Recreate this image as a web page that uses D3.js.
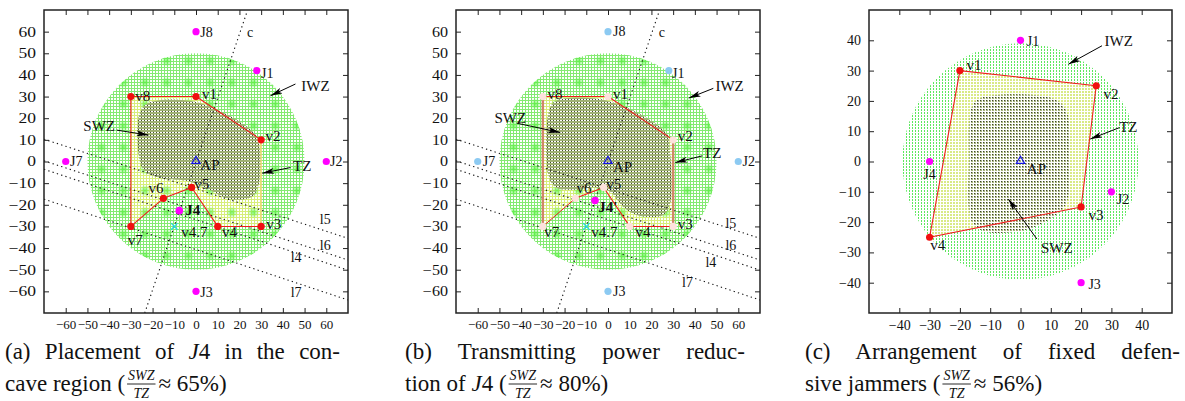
<!DOCTYPE html>
<html><head><meta charset="utf-8">
<script src="https://cdn.jsdelivr.net/npm/d3@7"></script>
<style>
body{margin:0;background:#fff;}
svg text{font-family:"Liberation Serif","Times New Roman",Tinos,"Nimbus Roman","DejaVu Serif",serif;fill:#111;}
</style>
</head><body>
<svg id="chart" width="1185" height="401" font-family="'Liberation Serif', 'Times New Roman', serif"></svg>
<script>
// ---------------- DATA ----------------
const ticksAB = [-60,-50,-40,-30,-20,-10,0,10,20,30,40,50,60];
const ticksC  = [-40,-30,-20,-10,0,10,20,30,40];

// polygon (TZ) vertices, panels a & b
const vertNamesAB = ["v1","v2","v3","v4","v5","v6","v7","v8"];
const vertXAB = [0,30,30,10,-2,-15,-30,-30];
const vertYAB = [30,10,-30,-30,-12,-17,-30,30];

// fixed jammers panels a & b
const jamNamesAB = ["J8","J1","J2","J3","J7"];
const jamXAB = [0,28,60,0,-60];
const jamYAB = [60,42,0,-60,0];

// moving jammer J4
const j4A = [-7.7,-22.7];
const j4B = [-6,-18];
const v47 = [-10,-30];
const apPos = [0,0];

// circle radii of IWZ
const iwzRadiusAB = 50;
const iwzRadiusC = 39;

// SWZ outlines
const swzA = [[-26,22],[-22,27],[0,27.5],[26,14],[29,8],[29,-10],[26,-16],[16,-17.5],[6,-13],[-4,-9],[-15,-8],[-24,-4],[-26.5,4]];
const swzB = [[-27,24],[-24,28],[0,28],[27,13],[28.5,5],[28.5,-20],[25,-25],[14,-25],[7,-21],[1,-14],[-6,-12],[-16,-13],[-24,-12],[-27.5,-6]];
const swzC = [[-16,18],[-13,21],[10,21],[15,17],[16,0],[15,-14],[8,-20],[0,-23],[-12,-23],[-16,-20],[-17,0]];

// dotted construction lines
const lineNames = ["c","l5","l6","l4","l7"];
const lineStart = [[-23.6,-70],[-70,10.3],[-70,0.3],[-70,-3.6],[-70,-17.4]];
const lineEnd   = [[23.6,69.5],[70,-35.5],[70,-45.5],[70,-50.2],[70,-64]];
const lineLabelA = [[23.5,59.7],[57,-26.7],[57,-39],[43.6,-44.4],[43.6,-60.6]];
const lineLabelB = [[23.4,59.7],[54.1,-28.6],[54.1,-39],[44.9,-46.8],[34.1,-56]];

// zone annotations
const zoneNames = ["IWZ","SWZ","TZ"];
const zoneLabelA = [[55,34.7],[-44.6,16.5],[48.9,-2]];
const zoneFromA  = [[45.8,35.8],[-36.5,14.5],[43.5,-2.8]];
const zoneToA    = [[34.3,30.4],[-21.9,12.2],[30.5,-5.4]];
const zoneLabelB = [[56,34.7],[-45,20],[48,3.8]];
const zoneFromB  = [[48.5,33.8],[-42,17.7],[43.4,2.6]];
const zoneToB    = [[37.2,29.3],[-22,13.4],[31,-0.5]];
const zoneLabelC = [[32.4,39.8],[12,-28.4],[35.6,11.5]];
const zoneFromC  = [[26.9,38.2],[5.4,-25.6],[32.7,11.2]];
const zoneToC    = [[15.8,32.1],[-4,-12.4],[23,7.4]];

// panel c polygon and jammers
const vertNamesC = ["v1","v2","v3","v4"];
const vertXC = [-20,25,20,-30];
const vertYC = [30,25,-15,-25];
const jamNamesC = ["J1","J2","J3","J4"];
const jamXC = [0,30,20,-30];
const jamYC = [40,-10,-40,0];

// captions
const capA1 = [["(a) Placement of ",0],["J",1],["4 in the con-",0]];
const capA2 = [["cave region (",0]]; const capA3 = " ≈ 65%)";
const capB1 = [["(b) Transmitting power reduc-",0]];
const capB2 = [["tion of ",0],["J",1],["4 (",0]]; const capB3 = " ≈ 80%)";
const capC1 = [["(c) Arrangement of fixed defen-",0]];
const capC2 = [["sive jammers (",0]]; const capC3 = " ≈ 56%)";
const fracNum = "SWZ", fracDen = "TZ";

// ---------------- DRAW ----------------
const FONT = "'Liberation Serif', 'Times New Roman', serif";
const svg = d3.select("#chart");
const defs = svg.append("defs");

function pattern(id, size, cells){
  const p = defs.append("pattern").attr("id",id).attr("patternUnits","userSpaceOnUse")
    .attr("width",size).attr("height",size);
  p.append("rect").attr("width",size).attr("height",size).attr("fill","#fff");
  cells.forEach(c=>p.append("rect").attr("x",c[0]).attr("y",c[1]).attr("width",c[2]).attr("height",c[3]).attr("fill",c[4]));
}
pattern("iwzAB",3,[[0,0,3,1,"#84ea72"],[0,0,1,3,"#84ea72"]]);
pattern("tzAB",3,[[0,0,3,1,"#d6ee7a"],[0,0,1,3,"#d6ee7a"]]);
pattern("swzAB",3,[[0,0,3,2,"#a0b274"],[1,2,1,1,"#48522e"]]);
pattern("iwzC",3,[[1,0,1,2,"#5ee85e"]]);
pattern("tzC",3,[[0,0,2,2,"#d9ea86"]]);
pattern("swzC",3,[[0,0,2,2,"#a8b47e"],[0,0,1,1,"#3e4430"]]);

const glow = defs.append("radialGradient").attr("id","glow");
glow.append("stop").attr("offset","0%").attr("stop-color","#55f03c").attr("stop-opacity",0.8);
glow.append("stop").attr("offset","100%").attr("stop-color","#55f03c").attr("stop-opacity",0);

defs.append("marker").attr("id","ah").attr("viewBox","0 0 12 6").attr("refX",12).attr("refY",3)
  .attr("markerWidth",12).attr("markerHeight",6).attr("markerUnits","userSpaceOnUse").attr("orient","auto")
  .append("path").attr("d","M0,0 L12,3 L0,6 L3,3 Z").attr("fill","#000");

function zip(xs,ys){return xs.map((x,i)=>[x,ys[i]]);}

function panel(o){
  const g = svg.append("g").attr("transform",`translate(${o.left},${o.top})`);
  const x = d3.scaleLinear().domain(o.domain).range([0,o.w]);
  const y = d3.scaleLinear().domain(o.domain).range([o.h,0]);
  const cid = "clip"+o.key;
  defs.append("clipPath").attr("id",cid).append("rect").attr("width",o.w).attr("height",o.h);
  const inner = g.append("g").attr("clip-path",`url(#${cid})`);

  // IWZ
  inner.append("ellipse").attr("cx",x(0)).attr("cy",y(0))
    .attr("rx",x(o.r)-x(0)).attr("ry",y(0)-y(o.r)).attr("fill",`url(#${o.iwzPat})`);
  // TZ polygon
  const pts = zip(o.vx,o.vy);
  inner.append("path").attr("d","M"+pts.map(p=>[x(p[0]),y(p[1])].join(",")).join("L")+"Z")
    .attr("fill",`url(#${o.tzPat})`);
  // resampling glow spots
  if(o.glow){
    const tw = x(10)-x(0), th = y(0)-y(10);
    const bp = defs.append("pattern").attr("id","blob"+o.key).attr("patternUnits","userSpaceOnUse")
      .attr("width",tw).attr("height",th).attr("x",x(6.5)-tw/2).attr("y",y(6.5)-th/2);
    bp.append("circle").attr("cx",tw/2).attr("cy",th/2).attr("r",6).attr("fill","url(#glow)");
    inner.append("ellipse").attr("cx",x(0)).attr("cy",y(0))
      .attr("rx",x(o.r)-x(0)).attr("ry",y(0)-y(o.r)).attr("fill",`url(#blob${o.key})`);
  }
  // SWZ
  const sl = d3.line().x(d=>x(d[0])).y(d=>y(d[1])).curve(d3.curveCatmullRomClosed.alpha(0.5));
  inner.append("path").attr("d",sl(o.swz)).attr("fill",`url(#${o.swzPat})`);

  // dotted lines
  if(o.lines){
    lineNames.forEach((n,i)=>{
      inner.append("line").attr("x1",x(lineStart[i][0])).attr("y1",y(lineStart[i][1]))
        .attr("x2",x(lineEnd[i][0])).attr("y2",y(lineEnd[i][1]))
        .attr("stroke","#111").attr("stroke-width",1.1).attr("stroke-dasharray","1.3,3.2");
      g.append("text").attr("x",x(o.lineLabels[i][0])).attr("y",y(o.lineLabels[i][1])+4.5)
        .attr("font-size",14).text(n);
    });
  }
  // polygon edges
  pts.forEach((p,i)=>{
    const q = pts[(i+1)%pts.length];
    const st = (o.edgeStyle && o.edgeStyle[i]) || {c:"#ee1c1c",w:1.1};
    inner.append("line").attr("x1",x(p[0])).attr("y1",y(p[1])).attr("x2",x(q[0])).attr("y2",y(q[1]))
      .attr("stroke",st.c).attr("stroke-width",st.w);
  });
  // zone arrows + labels
  zoneNames.forEach((n,i)=>{
    g.append("line").attr("x1",x(o.zFrom[i][0])).attr("y1",y(o.zFrom[i][1]))
      .attr("x2",x(o.zTo[i][0])).attr("y2",y(o.zTo[i][1]))
      .attr("stroke","#000").attr("stroke-width",1).attr("marker-end","url(#ah)");
    g.append("text").attr("x",x(o.zLabel[i][0])).attr("y",y(o.zLabel[i][1])+5)
      .attr("text-anchor","middle").attr("font-size",15).text(n);
  });
  // AP
  g.append("path").attr("transform",`translate(${x(apPos[0])},${y(apPos[1])-0.5})`)
    .attr("d",d3.symbol(d3.symbolTriangle,30)()).attr("fill","none").attr("stroke","#1515e0").attr("stroke-width",1.2);
  g.append("text").attr("x",x(apPos[0])+o.apOff[0]).attr("y",y(apPos[1])+o.apOff[1]).attr("font-size",15).text("AP");
  // v4.7 cross
  if(o.cross){
    g.append("path").attr("transform",`translate(${x(v47[0])},${y(v47[1])})`)
      .attr("d",d3.symbol(d3.symbolTimes,30)()).attr("fill","none").attr("stroke","#22d8e0").attr("stroke-width",1.2);
    g.append("text").attr("x",x(v47[0])+o.crossOff[0]).attr("y",y(v47[1])+o.crossOff[1]).attr("font-size",15).text("v4.7");
  }
  // vertices
  pts.forEach((p,i)=>{
    g.append("circle").attr("cx",x(p[0])).attr("cy",y(p[1])).attr("r",3.6).attr("fill",o.vColor);
    const off = o.vOff[o.vNames[i]];
    g.append("text").attr("x",x(p[0])+off[0]).attr("y",y(p[1])+off[1])
      .attr("text-anchor",off[2]||"start").attr("font-size",15).text(o.vNames[i]);
  });
  // jammers
  o.jNames.forEach((n,i)=>{
    g.append("circle").attr("cx",x(o.jx[i])).attr("cy",y(o.jy[i])).attr("r",3.6).attr("fill",o.jColor);
    const off = o.jOff[n];
    g.append("text").attr("x",x(o.jx[i])+off[0]).attr("y",y(o.jy[i])+off[1])
      .attr("text-anchor",off[2]||"start").attr("font-size",14).text(n);
  });
  if(o.j4){
    g.append("circle").attr("cx",x(o.j4[0])).attr("cy",y(o.j4[1])).attr("r",3.8).attr("fill","#ff00ff");
    g.append("text").attr("x",x(o.j4[0])+o.j4Off[0]).attr("y",y(o.j4[1])+o.j4Off[1])
      .attr("font-size",15).attr("font-weight","bold").text(o.j4Label);
  }

  // axes with inward ticks
  const fmt = d=> d<0 ? "\u2212"+Math.abs(d) : String(d);
  const ax = g.append("g").attr("transform",`translate(0,${o.h})`)
    .call(d3.axisBottom(x).tickValues(o.ticks).tickSizeInner(-5).tickSizeOuter(0).tickPadding(7).tickFormat(fmt));
  ax.attr("font-family",FONT);
  ax.selectAll("text").attr("font-size",o.xFont).attr("fill","#111");
  const ay = g.append("g")
    .call(d3.axisLeft(y).tickValues(o.ticks).tickSizeInner(-5).tickSizeOuter(0).tickPadding(8).tickFormat(fmt));
  ay.attr("font-family",FONT);
  ay.selectAll("text").attr("font-size",o.yFont).attr("fill","#111")
    .attr("transform",`scale(${o.yStretch},1)`).attr("x",-8/o.yStretch);
  g.append("g").call(d3.axisTop(x).tickValues(o.ticks).tickSizeInner(-5).tickSizeOuter(0).tickFormat(""));
  g.append("g").attr("transform",`translate(${o.w},0)`)
    .call(d3.axisRight(y).tickValues(o.ticks).tickSizeInner(-5).tickSizeOuter(0).tickFormat(""));
  g.selectAll(".domain").remove();
  g.selectAll(".tick line").attr("stroke","#222").attr("stroke-width",1);
  g.append("rect").attr("width",o.w).attr("height",o.h).attr("fill","none").attr("stroke","#222").attr("stroke-width",1.5);
}

const offAB = {v8:[4.3,4.2],v1:[6,2.2],v2:[4.3,1.2],v3:[5,2.2],v4:[4.3,10.5],v5:[2.7,1.2],v6:[0,-5.5,"end"],v7:[-3,18.8]};
const offB  = {v8:[4.7,2.2],v1:[5,2.2],v2:[4.7,1.2],v3:[4.7,2.2],v4:[5.7,10.5],v5:[2.7,1.2],v6:[1,-4.8],v7:[1.3,10.5]};
const jOffA = {J8:[4.3,5.5],J1:[4.3,7.2],J2:[3.7,4.5],J3:[4.3,5.5],J7:[4.3,4.5]};
const jOffB = {J8:[5,4.5],J1:[3.3,7.2],J2:[4.3,4.5],J3:[5,4.5],J7:[5,4.5]};

panel({key:"a",left:44,top:10,w:304,h:303,domain:[-70,70],r:iwzRadiusAB,glow:true,
  iwzPat:"iwzAB",tzPat:"tzAB",swzPat:"swzAB",vx:vertXAB,vy:vertYAB,vNames:vertNamesAB,swz:swzA,
  lines:true,lineLabels:lineLabelA,zLabel:zoneLabelA,zFrom:zoneFromA,zTo:zoneToA,
  apOff:[4.3,8.8],cross:true,crossOff:[7,10.5],vColor:"#f01010",vOff:offAB,
  edgeStyle:{1:{c:"#f4d070",w:1.2}},
  jNames:jamNamesAB,jx:jamXAB,jy:jamYAB,jColor:"#ff00ff",jOff:jOffA,j4:j4A,j4Off:[6,4.8],j4Label:"J4",
  ticks:ticksAB,xFont:13,yFont:14,yStretch:1.25});

panel({key:"b",left:456,top:10,w:304,h:303,domain:[-70,70],r:iwzRadiusAB,glow:true,
  iwzPat:"iwzAB",tzPat:"tzAB",swzPat:"swzAB",vx:vertXAB,vy:vertYAB,vNames:vertNamesAB,swz:swzB,
  lines:true,lineLabels:lineLabelB,zLabel:zoneLabelB,zFrom:zoneFromB,zTo:zoneToB,
  apOff:[5,10.5],cross:true,crossOff:[5,10.5],vColor:"#fde2dc",vOff:offB,
  edgeStyle:{1:{c:"#d08868",w:2.4},5:{c:"#e82020",w:1},6:{c:"#d08868",w:2.4}},
  jNames:jamNamesAB,jx:jamXAB,jy:jamYAB,jColor:"#8ccaf2",jOff:jOffB,j4:j4B,j4Off:[3.3,11.5],j4Label:"J4'",
  ticks:ticksAB,xFont:13,yFont:14,yStretch:1.15});

panel({key:"c",left:869,top:10,w:303,h:303,domain:[-50,50],r:iwzRadiusC,glow:false,
  iwzPat:"iwzC",tzPat:"tzC",swzPat:"swzC",vx:vertXC,vy:vertYC,vNames:vertNamesC,swz:swzC,
  lines:false,zLabel:zoneLabelC,zFrom:zoneFromC,zTo:zoneToC,
  apOff:[6.3,12.2],cross:false,vColor:"#f01010",
  vOff:{v1:[6.7,-0.5],v2:[7.3,12.8],v3:[7.3,12.8],v4:[0.7,12.5]},
  jNames:jamNamesC,jx:jamXC,jy:jamYC,jColor:"#ff00ff",
  jOff:{J1:[6.3,5.8],J2:[5.3,11.8],J3:[7.3,6.5],J4:[0,17.2,"middle"]},
  ticks:ticksC,xFont:14,yFont:14,yStretch:1});

// captions
function caption(x0, line1, len1, line2, post){
  const fs = 23;
  const t1 = svg.append("text").attr("x",x0).attr("y",359).attr("font-size",fs);
  line1.forEach(p=>t1.append("tspan").attr("font-style",p[1]?"italic":null).text(p[0]));
  const nat = t1.node().getComputedTextLength();
  const spaces = line1.map(p=>p[0]).join("").split(" ").length-1;
  t1.attr("word-spacing", Math.max(0,(len1-nat)/spaces));
  const t2 = svg.append("text").attr("x",x0).attr("y",391).attr("font-size",fs);
  line2.forEach(p=>t2.append("tspan").attr("font-style",p[1]?"italic":null).text(p[0]));
  const w2 = t2.node().getComputedTextLength();
  const fx = x0 + w2 + 2;
  const num = svg.append("text").attr("x",0).attr("y",380).attr("font-size",14).attr("font-style","italic").text(fracNum);
  const den = svg.append("text").attr("x",0).attr("y",398).attr("font-size",14).attr("font-style","italic").text(fracDen);
  const wn = num.node().getComputedTextLength(), wd = den.node().getComputedTextLength();
  const fw = Math.max(wn,wd)+2;
  num.attr("x",fx+fw/2).attr("text-anchor","middle");
  den.attr("x",fx+fw/2).attr("text-anchor","middle");
  svg.append("line").attr("x1",fx).attr("x2",fx+fw).attr("y1",384).attr("y2",384).attr("stroke","#111").attr("stroke-width",0.9);
  svg.append("text").attr("x",fx+fw+3).attr("y",391).attr("font-size",fs).text(post);
}
caption(5, capA1, 335, capA2, capA3);
caption(405, capB1, 340, capB2, capB3);
caption(805, capC1, 375, capC2, capC3);
</script>
</body></html>
